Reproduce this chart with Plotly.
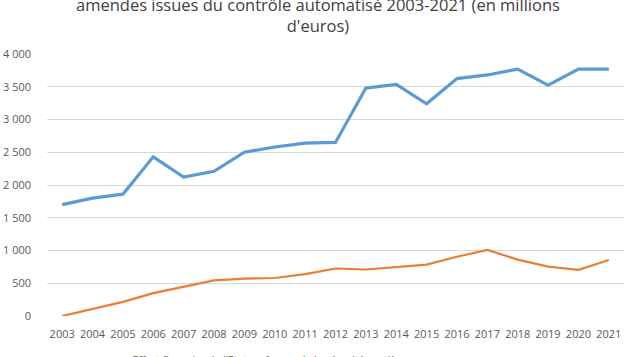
import plotly.graph_objects as go

years = list(range(2003, 2022))
recettes = [1700, 1800, 1860, 2430, 2120, 2210, 2500, 2580, 2640, 2650,
            3480, 3535, 3240, 3625, 3680, 3770, 3525, 3770, 3770]
effort = [0, 105, 215, 350, 445, 545, 570, 580, 640, 725,
          710, 745, 785, 905, 1010, 860, 755, 705, 855]
yticks = [0, 500, 1000, 1500, 2000, 2500, 3000, 3500, 4000]
ytick_labels = ["0", "500", "1 000", "1 500", "2 000", "2 500", "3 000", "3 500", "4 000"]

fig = go.Figure()
fig.add_trace(go.Scatter(
    x=years, y=effort, mode="lines",
    name="Effort financier de l'Etat en faveur de la sécurité routière",
    line=dict(color="#ED7D31", width=2.2), cliponaxis=False))
fig.add_trace(go.Scatter(
    x=years, y=recettes, mode="lines",
    name="Recettes des amendes issues du contrôle automatisé",
    line=dict(color="#5B9BD5", width=3.2), cliponaxis=False))

PLOT_TOP, PLOT_BOTTOM = 54, 316
ph = PLOT_BOTTOM - PLOT_TOP

fig.add_annotation(
    text="amendes issues du contrôle automatisé 2003-2021 (en millions<br>d'euros)",
    xref="paper", yref="paper", x=(317.5 - 47) / 577, xanchor="center",
    y=(PLOT_BOTTOM - 39) / ph, yanchor="bottom", showarrow=False, align="center",
    font=dict(size=16.5, color="#404040"))

fig.update_layout(
    width=634, height=357,
    margin=dict(l=47, r=10, t=PLOT_TOP, b=357 - PLOT_BOTTOM, autoexpand=False),
    paper_bgcolor="white", plot_bgcolor="white",
    font=dict(family="Open Sans, Liberation Sans, sans-serif", color="#595959", size=11),
    showlegend=True,
    legend=dict(orientation="h", x=0.079, xanchor="left", y=-(345 - PLOT_BOTTOM) / ph,
                yanchor="top", bgcolor="rgba(0,0,0,0)",
                font=dict(size=10.5, color="#595959"), traceorder="normal"),
    xaxis=dict(range=[2002.5, 2021.5], tickmode="array", tickvals=years,
               ticktext=[str(y) for y in years], showgrid=False, zeroline=False,
               showline=False, ticks="", ticklabelstandoff=10, tickfont=dict(size=11)),
    yaxis=dict(range=[0, 4000], tickmode="array", tickvals=yticks, ticktext=ytick_labels,
               showgrid=True, gridcolor="#D9D9D9", gridwidth=1, zeroline=False,
               showline=False, ticks="", ticklabelstandoff=15, tickfont=dict(size=11)),
)
fig.write_html("out.html", config={"displayModeBar": False},
               post_script="document.body.style.margin='0';")
